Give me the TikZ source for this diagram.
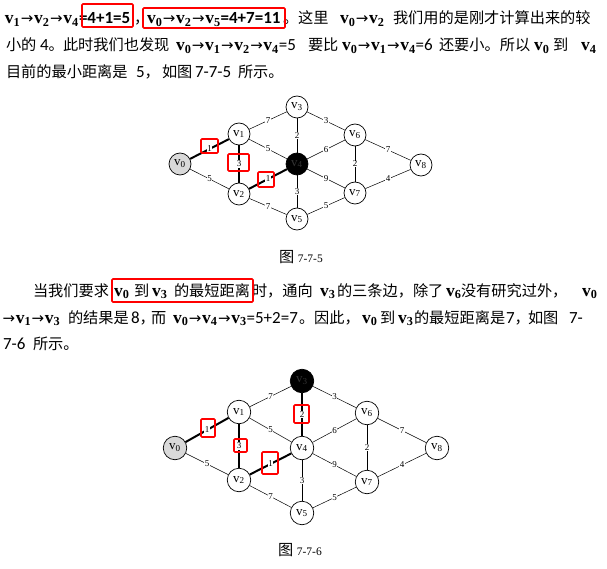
\documentclass[tikz,border=0pt]{standalone}
\usepackage{fontspec}
\setmainfont{Liberation Serif}
\newfontfamily\cjk{Noto Sans CJK SC}
\newfontfamily\calf{Carlito}
\newfontfamily\djv{DejaVu Sans}
\newcommand\C[1]{{\cjk\fontsize{15.2}{18}\selectfont #1}}
\newcommand\N[1]{{\calf\fontsize{17}{18}\selectfont #1}}
\newcommand\NB[1]{{\calf\bfseries\fontsize{17}{18}\selectfont #1}}
\newcommand\vb[1]{{\fontsize{17.5}{18}\selectfont\textbf{v}\textsubscript{\textbf{#1}}}}
\newcommand\ar{{\hspace{0.6pt}\djv\fontsize{15}{18}\selectfont →\hspace{0.6pt}}}
\newcommand\gv[1]{v\textsubscript{#1}}
\tikzset{
  seg/.style={inner sep=0pt, outer sep=0pt, anchor=base west, font=\fontsize{15.5}{18}\selectfont},
  redbox/.style={draw=red, line width=1.6pt, rounded corners=1pt},
  vert/.style={circle, draw, line width=0.7pt, fill=white, inner sep=0pt, font=\fontsize{13}{13}\selectfont},
  vsmall/.style={vert, minimum size=22pt},
  vbig/.style={vert, minimum size=23.5pt},
  eg/.style={line width=0.5pt},
  be/.style={line width=2pt},
  wl/.style={fill=white, inner sep=0.5pt, font=\fontsize{9}{9}\selectfont},
  figcap/.style={font=\fontsize{11.5}{13}\selectfont, inner sep=0pt, anchor=base},
}
\begin{document}
\begin{tikzpicture}[x=1pt,y=-1pt]
\useasboundingbox (0,0) rectangle (607,569);
% ---------- paragraph 1, line 1 ----------
\node[seg] (l1a) at (5,24) {\vb1\ar\vb2\ar\vb4};
\node[seg] (l1b) at (79,24) {\NB{=4+1=5}};
\node[seg] (l1c) at (134,24) {\C{，}};
\node[seg] (l1d) at (147,24) {\vb0\ar\vb2\ar\vb5\NB{=4+7=11}};
\node[seg] (l1e) at (283,24) {\C{。这里}};
\node[seg] (l1f) at (340,24) {\vb0\ar\vb2};
\node[seg] (l1g) at (393,24) {\C{我们用的是刚才计算出来的较}};
\draw[redbox] (82,4) rectangle (133,27);
\draw[redbox] (143,8) rectangle (285,28);
% ---------- paragraph 1, line 2 ----------
\node[seg] (l2a) at (6,51) {\C{小的}};
\node[seg] (l2b) at (40,51) {\N{4}\C{。}};
\node[seg] (l2c) at (63,51) {\C{此时我们也发现}};
\node[seg] (l2d) at (176,51) {\vb0\ar\vb1\ar\vb2\ar\vb4\N{=5}};
\node[seg] (l2e) at (308,51) {\C{要比}};
\node[seg] (l2f) at (342,51) {\vb0\ar\vb1\ar\vb4\N{=6}};
\node[seg] (l2g) at (439,51) {\C{还要小。所以}};
\node[seg] (l2h) at (534,51) {\vb0};
\node[seg] (l2i) at (553,51) {\C{到}};
\node[seg] (l2j) at (581,51) {\vb4};
% ---------- paragraph 1, line 3 ----------
\node[seg] (l3a) at (6,78) {\C{目前的最小距离是}};
\node[seg] (l3b) at (136,78) {\N{5}\C{，}};
\node[seg] (l3c) at (162,78) {\C{如图}};
\node[seg] (l3d) at (195,78) {\N{7-7-5}};
\node[seg] (l3e) at (238,78) {\C{所示。}};
% ---------- figure 1 ----------
\node[vsmall, fill=black!15] (p0) at (180,164) {\gv0};
\node[vsmall] (p1) at (239,134) {\gv1};
\node[vsmall] (p2) at (239,194) {\gv2};
\node[vsmall] (p3) at (297,107) {\gv3};
\node[vsmall, fill=black, text=black!80] (p4) at (297,164) {\gv4};
\node[vsmall] (p5) at (297,219) {\gv5};
\node[vsmall] (p6) at (355,135) {\gv6};
\node[vsmall] (p7) at (355,193) {\gv7};
\node[vsmall] (p8) at (421,165) {\gv8};
\draw[be] (p0) -- node[wl] (w01) {1} (p1);
\draw[eg] (p0) -- node[wl] {5} (p2);
\draw[be] (p1) -- node[wl] (w12) {3} (p2);
\draw[eg] (p1) -- node[wl] {7} (p3);
\draw[eg] (p1) -- node[wl] {5} (p4);
\draw[be] (p2) -- node[wl] (w24) {1} (p4);
\draw[eg] (p2) -- node[wl] {7} (p5);
\draw[eg] (p3) -- node[wl] {2} (p4);
\draw[eg] (p3) -- node[wl] {3} (p6);
\draw[eg] (p4) -- node[wl] {3} (p5);
\draw[eg] (p4) -- node[wl] {6} (p6);
\draw[eg] (p4) -- node[wl] {9} (p7);
\draw[eg] (p5) -- node[wl] {5} (p7);
\draw[eg] (p6) -- node[wl] {2} (p7);
\draw[eg] (p6) -- node[wl] {7} (p8);
\draw[eg] (p7) -- node[wl] {4} (p8);
\draw[redbox] (201,139) rectangle (218,153);
\draw[redbox] (228,154) rectangle (249,171);
\draw[redbox] (258,172) rectangle (274,187);
\node[figcap] (f1) at (301,262) {\C{图}\hspace{0.3em}7-7-5};
% ---------- paragraph 2, line 1 ----------
\node[seg] (m1a) at (33,296) {\C{当我们要求}};
\node[seg] (m1b) at (114,296) {\vb0};
\node[seg] (m1c) at (134,296) {\C{到}};
\node[seg] (m1d) at (152,296) {\vb3};
\node[seg] (m1e) at (174,296) {\C{的最短距离}};
\node[seg] (m1f) at (252,296) {\C{时，通向}};
\node[seg] (m1g) at (320,296) {\vb3};
\node[seg] (m1h) at (337,296) {\C{的三条边，除了}};
\node[seg] (m1i) at (446,296) {\vb6};
\node[seg] (m1j) at (461,296) {\C{没有研究过外，}};
\node[seg] (m1k) at (582,296) {\vb0};
\draw[redbox] (112,279) rectangle (253,302);
% ---------- paragraph 2, line 2 ----------
\node[seg] (m2a) at (2,323) {\ar\vb1\ar\vb3};
\node[seg] (m2b) at (68,323) {\C{的结果是}};
\node[seg] (m2c) at (131,323) {\N{8}\C{，}};
\node[seg] (m2d) at (151,323) {\C{而}};
\node[seg] (m2e) at (173,323) {\vb0\ar\vb4\ar\vb3\N{=5+2=7}};
\node[seg] (m2f) at (299,323) {\C{。因此，}};
\node[seg] (m2g) at (362,323) {\vb0};
\node[seg] (m2h) at (380,323) {\C{到}};
\node[seg] (m2i) at (398,323) {\vb3};
\node[seg] (m2j) at (414,323) {\C{的最短距离是}};
\node[seg] (m2k) at (506,323) {\N{7}\C{，}};
\node[seg] (m2l) at (528,323) {\C{如图}};
\node[seg] (m2m) at (569,323) {\N{7-}};
% ---------- paragraph 2, line 3 ----------
\node[seg] (m3a) at (3,349) {\N{7-6}};
\node[seg] (m3b) at (33,349) {\C{所示。}};
% ---------- figure 2 ----------
\node[vbig, fill=black!15] (q0) at (175,448) {\gv0};
\node[vbig] (q1) at (239,412) {\gv1};
\node[vbig] (q2) at (239,480) {\gv2};
\node[vbig, fill=black, text=black!80] (q3) at (302,381) {\gv3};
\node[vbig] (q4) at (302,448) {\gv4};
\node[vbig] (q5) at (302,513) {\gv5};
\node[vbig] (q6) at (367,413) {\gv6};
\node[vbig] (q7) at (367,482) {\gv7};
\node[vbig] (q8) at (437,448) {\gv8};
\draw[be] (q0) -- node[wl] {1} (q1);
\draw[eg] (q0) -- node[wl] {5} (q2);
\draw[be] (q1) -- node[wl] {3} (q2);
\draw[eg] (q1) -- node[wl] {7} (q3);
\draw[eg] (q1) -- node[wl] {5} (q4);
\draw[be] (q2) -- node[wl] {1} (q4);
\draw[eg] (q2) -- node[wl] {7} (q5);
\draw[be] (q3) -- node[wl] {2} (q4);
\draw[eg] (q3) -- node[wl] {3} (q6);
\draw[eg] (q4) -- node[wl] {3} (q5);
\draw[eg] (q4) -- node[wl] {6} (q6);
\draw[eg] (q4) -- node[wl] {9} (q7);
\draw[eg] (q5) -- node[wl] {5} (q7);
\draw[eg] (q6) -- node[wl] {2} (q7);
\draw[eg] (q6) -- node[wl] {7} (q8);
\draw[eg] (q7) -- node[wl] {4} (q8);
\draw[redbox] (201,419) rectangle (215,437);
\draw[redbox] (234,439) rectangle (247,452);
\draw[redbox] (262,452) rectangle (278,474);
\draw[redbox] (294,405) rectangle (309,423);
\node[figcap] (f2) at (300,555) {\C{图}\hspace{0.3em}7-7-6};
\end{tikzpicture}
\end{document}
